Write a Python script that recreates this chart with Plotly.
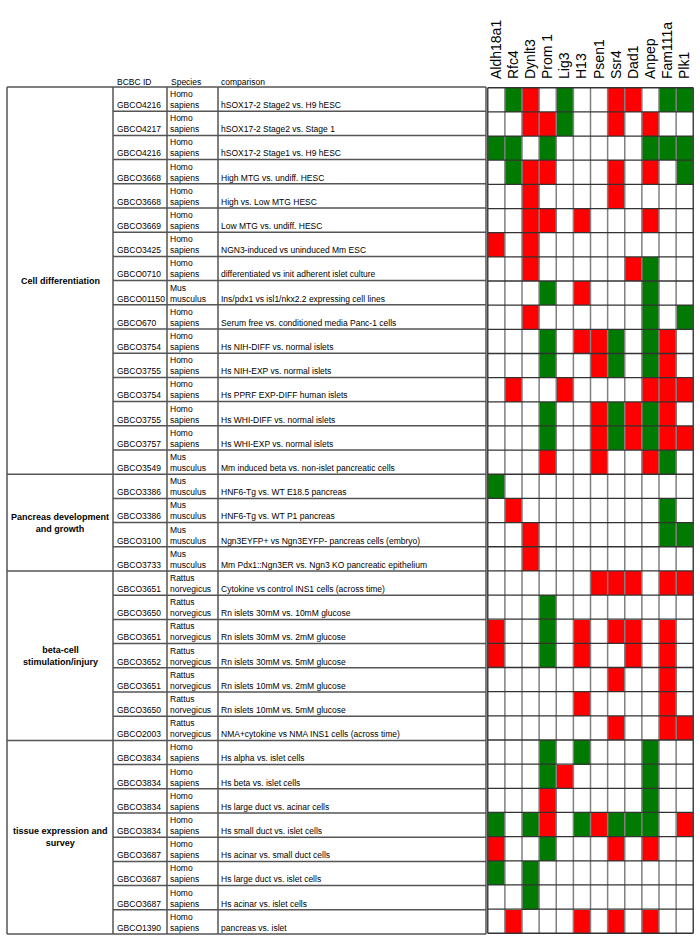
import plotly.graph_objects as go

genes = ["Aldh18a1", "Rfc4", "Dynlt3", "Prom 1", "Lig3", "H13", "Psen1", "Ssr4", "Dad1", "Anpep", "Fam111a", "Plk1"]

categories = ["Cell differentiation", "Pancreas development<br>and growth",
              "beta-cell<br>stimulation/injury", "tissue expression and<br>survey"]
category_sizes = [16, 4, 7, 8]

bcbc_ids = ["GBCO4216", "GBCO4217", "GBCO4216", "GBCO3668", "GBCO3668", "GBCO3669", "GBCO3425",
            "GBCO0710", "GBCO01150", "GBCO670", "GBCO3754", "GBCO3755", "GBCO3754", "GBCO3755",
            "GBCO3757", "GBCO3549", "GBCO3386", "GBCO3386", "GBCO3100", "GBCO3733", "GBCO3651",
            "GBCO3650", "GBCO3651", "GBCO3652", "GBCO3651", "GBCO3650", "GBCO2003", "GBCO3834",
            "GBCO3834", "GBCO3834", "GBCO3834", "GBCO3687", "GBCO3687", "GBCO3687", "GBCO1390"]

species = (["Homo|sapiens"] * 8 + ["Mus|musculus"] + ["Homo|sapiens"] * 6 + ["Mus|musculus"] * 5
           + ["Rattus|norvegicus"] * 7 + ["Homo|sapiens"] * 8)

comparisons = [
    "hSOX17-2 Stage2 vs. H9 hESC", "hSOX17-2 Stage2 vs. Stage 1", "hSOX17-2 Stage1 vs. H9 hESC",
    "High MTG vs. undiff. HESC", "High vs. Low MTG HESC", "Low MTG vs. undiff. HESC",
    "NGN3-induced vs uninduced Mm ESC", "differentiated vs init adherent islet culture",
    "Ins/pdx1 vs isl1/nkx2.2 expressing cell lines", "Serum free vs. conditioned media Panc-1 cells",
    "Hs NIH-DIFF vs. normal islets", "Hs NIH-EXP vs. normal islets", "Hs PPRF EXP-DIFF human islets",
    "Hs WHI-DIFF vs. normal islets", "Hs WHI-EXP vs. normal islets",
    "Mm induced beta vs. non-islet pancreatic cells",
    "HNF6-Tg vs. WT E18.5 pancreas", "HNF6-Tg vs. WT P1 pancreas",
    "Ngn3EYFP+ vs Ngn3EYFP- pancreas cells (embryo)", "Mm Pdx1::Ngn3ER vs. Ngn3 KO pancreatic epithelium",
    "Cytokine vs control INS1 cells (across time)", "Rn islets 30mM vs. 10mM glucose",
    "Rn islets 30mM vs. 2mM glucose", "Rn islets 30mM vs. 5mM glucose", "Rn islets 10mM vs. 2mM glucose",
    "Rn islets 10mM vs. 5mM glucose", "NMA+cytokine vs NMA INS1 cells (across time)",
    "Hs alpha vs. islet cells", "Hs beta vs. islet cells", "Hs large duct vs. acinar cells",
    "Hs small duct vs. islet cells", "Hs acinar vs. small duct cells", "Hs large duct vs. islet cells",
    "Hs acinar vs. islet cells", "pancreas vs. islet"]

# 0 = no change, 1 = red, 2 = green
status = [
    [0, 2, 1, 0, 2, 0, 0, 1, 1, 0, 2, 2],
    [0, 0, 1, 1, 2, 0, 0, 1, 0, 1, 0, 0],
    [2, 2, 0, 2, 0, 0, 0, 0, 0, 2, 2, 2],
    [0, 2, 1, 1, 0, 0, 0, 1, 0, 1, 0, 2],
    [0, 0, 1, 0, 0, 0, 0, 1, 0, 0, 0, 0],
    [0, 0, 1, 1, 0, 1, 0, 0, 0, 1, 0, 0],
    [1, 0, 1, 0, 0, 0, 0, 0, 0, 0, 0, 0],
    [0, 0, 1, 0, 0, 0, 0, 0, 1, 2, 0, 0],
    [0, 0, 0, 2, 0, 1, 0, 0, 0, 2, 0, 0],
    [0, 0, 1, 0, 0, 0, 0, 0, 0, 2, 0, 2],
    [0, 0, 0, 2, 0, 1, 1, 2, 0, 2, 1, 0],
    [0, 0, 0, 2, 0, 0, 1, 2, 0, 2, 1, 0],
    [0, 1, 0, 0, 1, 0, 0, 0, 0, 1, 1, 1],
    [0, 0, 0, 2, 0, 0, 1, 2, 1, 2, 1, 0],
    [0, 0, 0, 2, 0, 0, 1, 2, 1, 2, 1, 1],
    [0, 0, 0, 1, 0, 0, 1, 0, 0, 1, 2, 0],
    [2, 0, 0, 0, 0, 0, 0, 0, 0, 0, 0, 0],
    [0, 1, 0, 0, 0, 0, 0, 0, 0, 0, 2, 0],
    [0, 0, 1, 0, 0, 0, 0, 0, 0, 0, 2, 2],
    [0, 0, 1, 0, 0, 0, 0, 0, 0, 0, 0, 0],
    [0, 0, 0, 0, 0, 0, 1, 1, 1, 0, 1, 1],
    [0, 0, 0, 2, 0, 0, 0, 0, 0, 0, 0, 0],
    [1, 0, 0, 2, 0, 1, 0, 1, 1, 0, 1, 0],
    [1, 0, 0, 2, 0, 1, 0, 0, 1, 0, 1, 0],
    [0, 0, 0, 0, 0, 0, 0, 1, 0, 0, 1, 0],
    [0, 0, 0, 0, 0, 1, 0, 0, 0, 0, 1, 0],
    [0, 0, 0, 0, 0, 0, 0, 1, 0, 0, 1, 1],
    [0, 0, 0, 2, 0, 2, 0, 0, 0, 2, 0, 0],
    [0, 0, 0, 2, 1, 0, 0, 0, 0, 2, 0, 0],
    [0, 0, 0, 1, 0, 0, 0, 0, 0, 2, 0, 0],
    [2, 0, 2, 1, 0, 2, 1, 2, 2, 2, 0, 1],
    [1, 0, 0, 2, 0, 0, 0, 1, 0, 1, 0, 0],
    [2, 0, 2, 0, 0, 0, 0, 0, 0, 0, 0, 0],
    [0, 0, 2, 0, 0, 0, 0, 0, 0, 0, 0, 0],
    [0, 1, 0, 0, 0, 1, 0, 1, 0, 1, 0, 0],
]

W, H = 700, 940
TOP, BOT = 87, 934
HX0, HX1 = 487, 694
X_CAT, X_ID, X_SP, X_CMP, X_END = 7, 113, 167, 218, 486
N = len(bcbc_ids)
RH = (BOT - TOP) / N
RED, GREEN = "#FF0000", "#007A00"
FONT = "Liberation Sans"
LINE = "#555555"

fig = go.Figure()
row_idx = list(range(N))
fig.add_trace(go.Heatmap(
    z=status, x=genes, y=row_idx, xaxis="x2", yaxis="y2",
    zmin=0, zmax=2, showscale=False, hoverinfo="skip",
    colorscale=[[0, "white"], [0.33, "white"], [0.33, RED], [0.67, RED], [0.67, GREEN], [1, GREEN]]))

shapes = []
# heatmap grid
for i in range(len(genes) + 1):
    shapes.append(dict(type="line", xref="x2", yref="y2", x0=i - 0.5, x1=i - 0.5, y0=-0.5, y1=N - 0.5,
                       line=dict(color="#808080" if 0 < i < len(genes) else "#444444", width=1.5)))
for j in range(N + 1):
    shapes.append(dict(type="line", xref="x2", yref="y2", x0=-0.5, x1=len(genes) - 0.5, y0=j - 0.5, y1=j - 0.5,
                       line=dict(color="#333333", width=1.3)))

# table lines
bounds = [0]
for s in category_sizes:
    bounds.append(bounds[-1] + s)
for j in range(N + 1):
    y = TOP + j * RH
    x0 = X_CAT if j in bounds else X_ID
    shapes.append(dict(type="line", xref="x", yref="y", x0=x0, x1=X_END, y0=y, y1=y,
                       line=dict(color=LINE, width=1.5)))
for xv in [X_CAT, X_ID, X_SP, X_CMP, X_END]:
    shapes.append(dict(type="line", xref="x", yref="y", x0=xv, x1=xv, y0=TOP, y1=BOT,
                       line=dict(color=LINE, width=1.5)))

ann = []
fs = 8.5
def txt(x, y, t, size=fs, bold=False, xanchor="left"):
    ann.append(dict(x=x, y=y, xref="x", yref="y", text=("<b>%s</b>" % t) if bold else t,
                    showarrow=False, xanchor=xanchor, yanchor="middle",
                    font=dict(family=FONT, size=size, color="black")))

txt(X_ID + 2, 82, "BCBC ID")
txt(X_SP + 2, 82, "Species")
txt(X_CMP + 1, 82, "comparison")
for i in range(N):
    yt = TOP + i * RH
    a, b = species[i].split("|")
    txt(X_SP + 1, yt + 7, a)
    txt(X_SP + 1, yt + 18, b)
    txt(X_ID + 2, yt + 18, bcbc_ids[i])
    txt(X_CMP + 1, yt + 18, comparisons[i])
for k, c in enumerate(categories):
    yc = TOP + (bounds[k] + bounds[k + 1]) / 2 * RH
    txt((X_CAT + X_ID) / 2, yc, c, size=9, bold=True, xanchor="center")

fig.update_layout(
    width=W, height=H, margin=dict(l=0, r=0, t=0, b=0),
    paper_bgcolor="white", plot_bgcolor="rgba(0,0,0,0)", showlegend=False,
    xaxis=dict(range=[0, W], domain=[0, 1], visible=False, fixedrange=True),
    yaxis=dict(range=[H, 0], domain=[0, 1], visible=False, fixedrange=True),
    xaxis2=dict(domain=[HX0 / W, HX1 / W], anchor="y2", side="top", tickangle=-90,
                tickmode="array", tickvals=genes, ticktext=genes,
                tickfont=dict(family=FONT, size=14, color="black"), showgrid=False, zeroline=False,
                ticks="", showline=False, ticklabelstandoff=7),
    yaxis2=dict(domain=[1 - BOT / H, 1 - TOP / H], anchor="x2", autorange="reversed",
                visible=False, showgrid=False),
    shapes=shapes, annotations=ann,
)
fig.write_html("out.html", config={"displayModeBar": False, "staticPlot": True},
               post_script="document.body.style.margin='0px';document.body.style.overflow='hidden';")
